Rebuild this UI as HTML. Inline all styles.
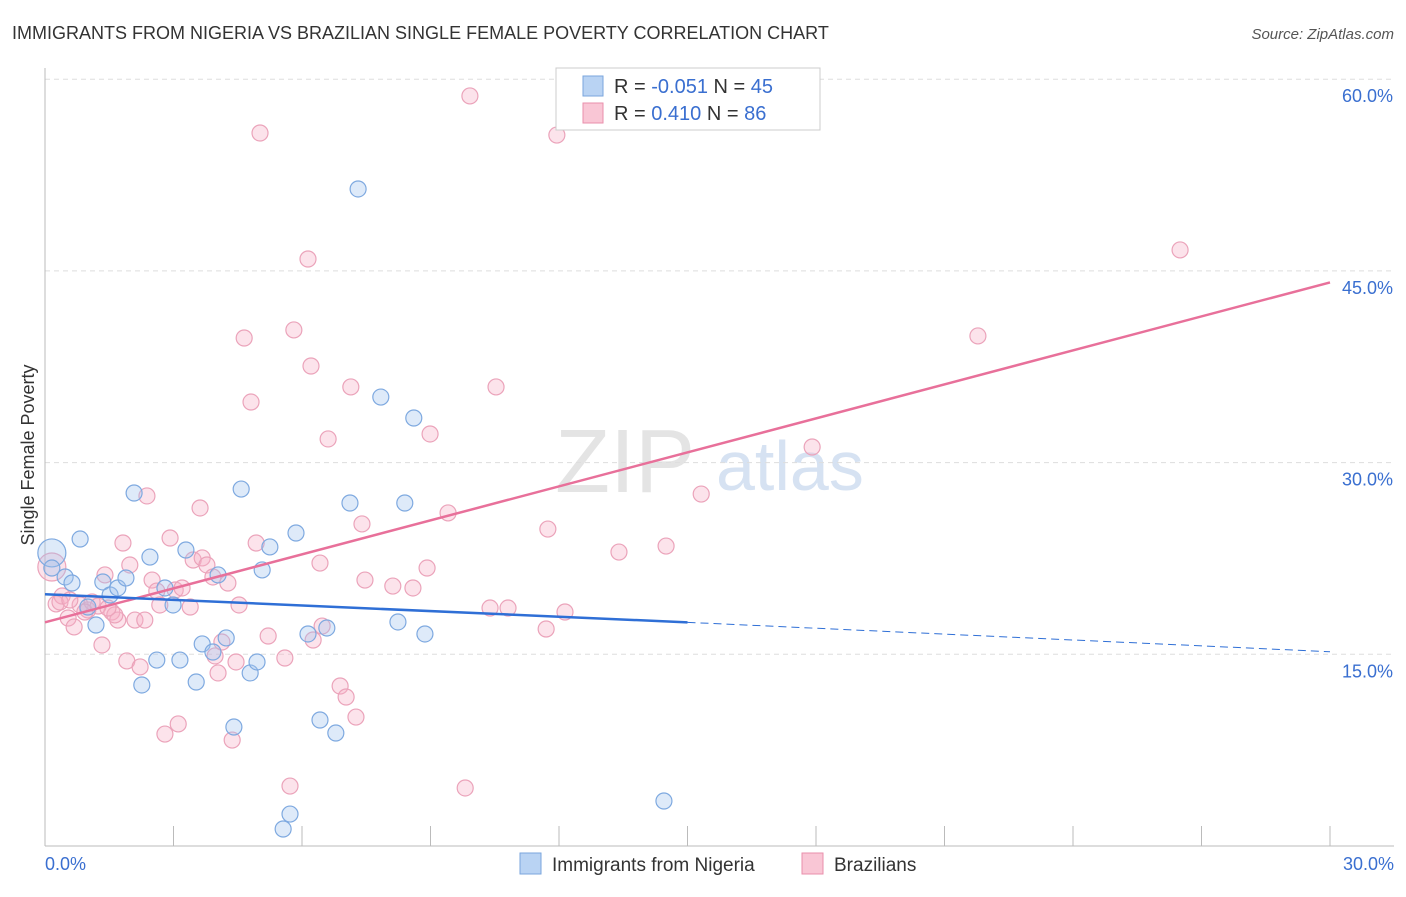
<!DOCTYPE html>
<html><head><meta charset="utf-8"><style>
body{margin:0;background:#fff;font-family:"Liberation Sans",sans-serif;}
svg text{font-family:"Liberation Sans",sans-serif;}
</style></head><body>
<svg id="c" width="1406" height="892">
<text x="12" y="39" font-size="18" fill="#333">IMMIGRANTS FROM NIGERIA VS BRAZILIAN SINGLE FEMALE POVERTY CORRELATION CHART</text>
<text x="1394" y="39" font-size="15" fill="#555" font-style="italic" text-anchor="end">Source: ZipAtlas.com</text>
<text x="34" y="455" font-size="18" fill="#333" transform="rotate(-90 34 455)" text-anchor="middle">Single Female Poverty</text>
<text x="555" y="492" font-size="90" fill="#e4e4e4" font-family="Liberation Serif">ZIP</text>
<text x="716" y="490" font-size="70" fill="#d6e2f2">atlas</text>
<g id="grid"></g><g id="pts"></g><g id="lines"></g>
<g>
<rect x="556" y="68" width="264" height="62" fill="#fff" stroke="#ccc"/>
<rect x="583" y="76" width="20" height="20" fill="#b9d3f3" stroke="#7aa6dd"/>
<rect x="583" y="103" width="20" height="20" fill="#f9c6d5" stroke="#e98fab"/>
<text x="614" y="93" font-size="20" fill="#333">R = <tspan fill="#3a6fd0">-0.051</tspan>   N = <tspan fill="#3a6fd0">45</tspan></text>
<text x="614" y="120" font-size="20" fill="#333">R = <tspan fill="#3a6fd0"> 0.410</tspan>   N = <tspan fill="#3a6fd0">86</tspan></text>
</g>
<g>
<rect x="520" y="853" width="21" height="21" fill="#b9d3f3" stroke="#7aa6dd"/>
<text x="552" y="871" font-size="19" fill="#333">Immigrants from Nigeria</text>
<rect x="802" y="853" width="21" height="21" fill="#f9c6d5" stroke="#e98fab"/>
<text x="834" y="871" font-size="19" fill="#333">Brazilians</text>
</g>
</svg>
<script>
const yTicks=[15,30,45,60];
const yTickLabels=["15.0%","30.0%","45.0%","60.0%"];
const xTickLabels=["0.0%","30.0%"];
const bluePx=[[52,553],[52,568],[65,577],[72,583],[80,539],[88,607],[96,625],[103,582],[110,595],[118,588],[126,578],[134,493],[142,685],[150,557],[157,660],[165,588],[173,605],[180,660],[186,550],[196,682],[202,644],[213,652],[218,575],[226,638],[234,727],[241,489],[250,673],[257,662],[262,570],[270,547],[283,829],[290,814],[296,533],[308,634],[320,720],[327,628],[336,733],[350,503],[358,189],[381,397],[398,622],[405,503],[414,418],[425,634],[664,801]];
const pinkPx=[[52,567],[56,604],[62,596],[68,618],[74,627],[80,605],[88,610],[92,602],[102,645],[105,575],[112,612],[118,620],[123,543],[127,661],[130,565],[135,620],[140,667],[145,620],[147,496],[152,580],[157,591],[160,605],[165,734],[170,538],[175,590],[178,724],[182,588],[190,607],[193,560],[200,508],[202,558],[207,565],[213,577],[215,656],[218,673],[222,642],[228,583],[232,740],[236,662],[239,605],[244,338],[251,402],[256,543],[260,133],[268,636],[285,658],[290,786],[294,330],[308,259],[311,366],[313,640],[320,563],[322,626],[328,439],[340,686],[346,697],[351,387],[356,717],[362,524],[365,580],[393,586],[413,588],[427,568],[430,434],[448,513],[465,788],[470,96],[490,608],[496,387],[508,608],[546,629],[548,529],[557,135],[565,612],[619,552],[666,546],[701,494],[812,447],[978,336],[1180,250],[60,602],[85,612],[98,606],[115,615],[70,600],[108,608]];
// convert reference pixel readings to data values
const blueX=bluePx.map(p=>+((p[0]-45)*30/1285).toFixed(2));
const blueY=bluePx.map(p=>+((846-p[1])*15/191.7).toFixed(2));
const pinkX=pinkPx.map(p=>+((p[0]-45)*30/1285).toFixed(2));
const pinkY=pinkPx.map(p=>+((846-p[1])*15/191.7).toFixed(2));
const blueTrend=[19.7,17.5,15.2]; // at x=0, 15, 30
const pinkTrend=[17.5,44.1];       // at x=0, 30
const NS="http://www.w3.org/2000/svg";
const sx=v=>45+v/30*1285, sy=v=>846-v/15*191.7;
function mk(t,a,p){const e=document.createElementNS(NS,t);for(const k in a)e.setAttribute(k,a[k]);p.appendChild(e);return e;}
const grid=document.getElementById('grid');
yTicks.forEach((t,i)=>{
 const l=mk('line',{x1:45,x2:1394,y1:sy(t),y2:sy(t),stroke:'#ddd','stroke-dasharray':'5,4'},grid);
 
 
 const tx=mk('text',{x:1393,y:sy(t)+23,'font-size':18,fill:'#3a6fd0','text-anchor':'end'},grid);tx.textContent=yTickLabels[i];
 
 
});
mk('line',{x1:45,x2:45,y1:68,y2:846,stroke:'#bbb'},grid);
mk('line',{x1:45,x2:1394,y1:846,y2:846,stroke:'#bbb'},grid);
for(let i=0;i<=10;i++){const x=sx(i*3);mk('line',{x1:x,x2:x,y1:826,y2:846,stroke:'#bbb'},grid);}
[[0,'start',45],[30,'end',1394]].forEach((d,i)=>{const t=mk('text',{x:d[2],y:870,'font-size':18,fill:'#3a6fd0','text-anchor':d[1]},grid);t.textContent=xTickLabels[i];
 
 });
const pts=document.getElementById('pts');
pinkX.forEach((x,i)=>{const c=mk('circle',{cx:sx(x),cy:sy(pinkY[i]),r:i==0?14:8,fill:'rgba(246,175,198,0.35)',stroke:'#eba3ba','stroke-width':1.2},pts);
 
 });
blueX.forEach((x,i)=>{const c=mk('circle',{cx:sx(x),cy:sy(blueY[i]),r:i==0?14:8,fill:'rgba(160,195,238,0.35)',stroke:'#7ea9e0','stroke-width':1.2},pts);
 
 });
const L=document.getElementById('lines');
let e=mk('line',{x1:sx(0),y1:sy(pinkTrend[0]),x2:sx(30),y2:sy(pinkTrend[1]),stroke:'#e8709a','stroke-width':2.5},L);


e=mk('line',{x1:sx(0),y1:sy(blueTrend[0]),x2:sx(15),y2:sy(blueTrend[1]),stroke:'#2f6fd6','stroke-width':2.5},L);


e=mk('line',{x1:sx(15),y1:sy(blueTrend[1]),x2:sx(30),y2:sy(blueTrend[2]),stroke:'#2f6fd6','stroke-width':1,'stroke-dasharray':'8,5'},L);


</script>
</body></html>
